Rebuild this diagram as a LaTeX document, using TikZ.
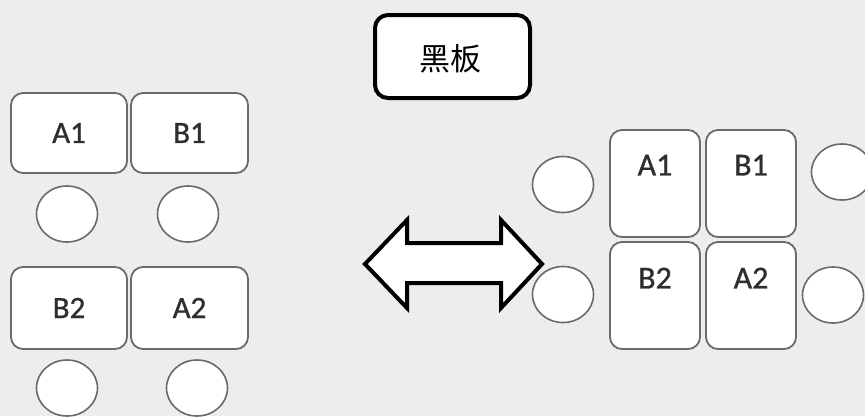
\documentclass[tikz,border=0pt]{standalone}
\usepackage{fontspec}
\setmainfont{Carlito}
\newfontfamily\deskfont[FakeBold=0.9]{Carlito}
\newfontfamily\cjk{Noto Sans CJK SC}
\usetikzlibrary{shapes.geometric}
\definecolor{bgc}{HTML}{EDEDED}
\definecolor{edgec}{HTML}{6A6A6A}
\definecolor{txtc}{HTML}{2E2E2E}
\tikzset{
  deskbox/.style={draw=edgec, line width=1.8pt, fill=white, rounded corners=12pt,
    rectangle, inner sep=0pt, text=txtc, font=\deskfont\fontsize{31}{36}\selectfont},
  seat/.style={draw=edgec, line width=1.6pt, fill=white, ellipse, inner sep=0pt,
    minimum width=61pt, minimum height=56pt},
  boardbox/.style={draw=black, line width=4pt, fill=white, rounded corners=13pt,
    rectangle, inner sep=0pt, minimum width=155pt, minimum height=83pt},
  bigarrow/.style={draw=black, line width=4pt, fill=white, line join=miter}
}
\begin{document}
\begin{tikzpicture}[x=1pt,y=-1pt]
\useasboundingbox (0,0) rectangle (865,416);
\fill[bgc] (0,0) rectangle (865,416);

% blackboard
\node[boardbox] (board) at (452.5,56.5) {};
\node[text=black, font=\cjk\fontsize{31}{36}\selectfont] (boardtxt) at (450,59) {黑板};

% left layout
\node[deskbox, minimum width=116pt, minimum height=80pt] (LA1) at (69,133) {A1};
\node[deskbox, minimum width=117pt, minimum height=80pt] (LB1) at (189.5,133) {B1};
\node[seat] (lc1) at (67,214) {};
\node[seat] (lc2) at (188,214) {};
\node[deskbox, minimum width=116pt, minimum height=82pt] (LB2) at (69,308) {B2};
\node[deskbox, minimum width=117pt, minimum height=82pt] (LA2) at (189.5,308) {A2};
\node[seat] (lc3) at (67,388) {};
\node[seat] (lc4) at (197,388) {};

% double arrow
\coordinate (al) at (365,264);
\coordinate (ar) at (542,264);
\draw[bigarrow] (al) -- (407,220) -- (407,243) -- (501,243) -- (501,220) -- (ar)
  -- (501,308) -- (501,283) -- (407,283) -- (407,308) -- cycle;

% right layout
\tikzset{rdesk/.style={deskbox, minimum width=90pt, minimum height=107pt}}
\node[rdesk] (RA1) at (655,183.5) {};
\node[rdesk] (RB1) at (751,183.5) {};
\node[rdesk] (RB2) at (655,295.5) {};
\node[rdesk] (RA2) at (751,295.5) {};
\tikzset{rlab/.style={text=txtc, font=\deskfont\fontsize{32}{36}\selectfont, inner sep=0pt}}
\node[rlab] (tA1) at ([yshift=-36pt]RA1.north) {A1};
\node[rlab] (tB1) at ([yshift=-36pt]RB1.north) {B1};
\node[rlab] (tB2) at ([yshift=-37pt]RB2.north) {B2};
\node[rlab] (tA2) at ([yshift=-37pt]RA2.north) {A2};
\node[seat] (rc1) at (563,184.5) {};
\node[seat] (rc2) at (563,294.5) {};
\node[seat] (rc3) at (842,172) {};
\node[seat] (rc4) at (833,295) {};
\end{tikzpicture}
\end{document}
